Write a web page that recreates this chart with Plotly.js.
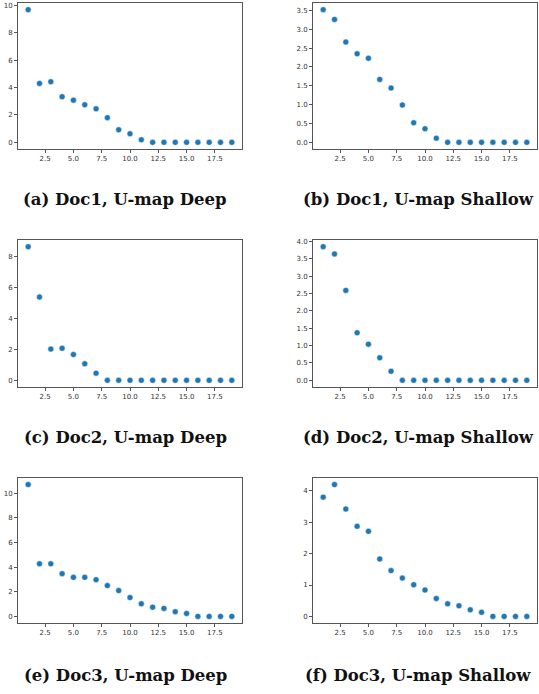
<!DOCTYPE html>
<html>
<head>
<meta charset="utf-8">
<script src="https://cdn.plot.ly/plotly-3.0.1.min.js"></script>
<style>html,body{margin:0;padding:0;background:#fff;}#chart{width:539px;height:694px;}</style>
</head>
<body>
<div id="chart"></div>
<script>
const xs = [1,2,3,4,5,6,7,8,9,10,11,12,13,14,15,16,17,18,19];
const doc1Deep    = [9.68,4.30,4.42,3.33,3.08,2.74,2.45,1.80,0.92,0.63,0.19,0,0,0,0,0,0,0,0];
const doc1Shallow = [3.52,3.26,2.66,2.35,2.23,1.67,1.44,0.99,0.52,0.36,0.11,0,0,0,0,0,0,0,0];
const doc2Deep    = [8.65,5.39,2.02,2.07,1.67,1.07,0.46,0,0,0,0,0,0,0,0,0,0,0,0];
const doc2Shallow = [3.85,3.64,2.59,1.37,1.04,0.65,0.26,0,0,0,0,0,0,0,0,0,0,0,0];
const doc3Deep    = [10.70,4.27,4.27,3.47,3.17,3.17,2.98,2.50,2.10,1.53,1.02,0.75,0.65,0.38,0.24,0,0,0,0];
const doc3Shallow = [3.80,4.20,3.42,2.87,2.71,1.83,1.46,1.22,1.01,0.84,0.57,0.40,0.34,0.21,0.13,0,0,0,0];
const captions = ["(a) Doc1, U-map Deep","(b) Doc1, U-map Shallow","(c) Doc2, U-map Deep","(d) Doc2, U-map Shallow","(e) Doc3, U-map Deep","(f) Doc3, U-map Shallow"];
const xTickVals = [2.5,5.0,7.5,10.0,12.5,15.0,17.5];
const yTicks = [
  {vals:[0,2,4,6,8,10], fmt:"d"},
  {vals:[0,0.5,1,1.5,2,2.5,3,3.5], fmt:".1f"},
  {vals:[0,2,4,6,8], fmt:"d"},
  {vals:[0,0.5,1,1.5,2,2.5,3,3.5,4], fmt:".1f"},
  {vals:[0,2,4,6,8,10], fmt:"d"},
  {vals:[0,1,2,3,4], fmt:"d"}
];
const series = [doc1Deep,doc1Shallow,doc2Deep,doc2Shallow,doc3Deep,doc3Shallow];

const W = 539, H = 694;
const colsPx = [[18,242],[313,537]];
const rowsPx = [[3,149],[240,387],[478,623]];
const capY = [200,437,675];
const capX = [125,418];

const data = [];
const layout = {
  width: W, height: H,
  margin:{l:0,r:0,t:0,b:0},
  paper_bgcolor:"#fff", plot_bgcolor:"#fff",
  showlegend:false,
  annotations:[]
};
series.forEach((s,i)=>{
  const r = Math.floor(i/2), c = i%2;
  const n = i+1;
  const xa = n===1?'x':'x'+n, ya = n===1?'y':'y'+n;
  data.push({x:xs, y:s, type:'scatter', mode:'markers', xaxis:xa, yaxis:ya,
    marker:{color:'#1f77b4', size:6, line:{color:'#ffffff', width:0.5}}, hoverinfo:'skip'});
  const mx = Math.max(...s);
  const common = {showgrid:false, zeroline:false, showline:true, mirror:true, linecolor:'#555', linewidth:1,
    ticks:'outside', ticklen:3, tickcolor:'#555', tickfont:{family:'DejaVu Sans', size:7, color:'#333'}};
  layout['xaxis'+(n===1?'':n)] = Object.assign({}, common, {
    domain:[colsPx[c][0]/W, colsPx[c][1]/W], anchor:ya,
    range:[0.1,19.9], tickmode:'array', tickvals:xTickVals, tickformat:'.1f'});
  layout['yaxis'+(n===1?'':n)] = Object.assign({}, common, {
    domain:[1-rowsPx[r][1]/H, 1-rowsPx[r][0]/H], anchor:xa,
    range:[-0.05*mx, 1.05*mx], tickmode:'array', tickvals:yTicks[i].vals, tickformat:yTicks[i].fmt});
  layout.annotations.push({text:'<b>'+captions[i]+'</b>', xref:'paper', yref:'paper',
    x:capX[c]/W, y:1-capY[r]/H, xanchor:'center', yanchor:'middle', showarrow:false,
    font:{family:'DejaVu Serif', size:16.5, color:'#111'}});
});
Plotly.newPlot('chart', data, layout, {displayModeBar:false, staticPlot:true});
</script>
</body>
</html>
